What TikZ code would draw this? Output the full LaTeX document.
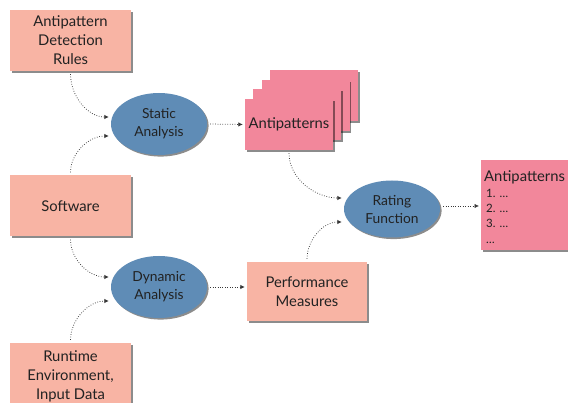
\documentclass[tikz,border=0pt]{standalone}
\usepackage{fontspec}
\setmainfont{Lato}
\usetikzlibrary{shapes.geometric,shadows,arrows.meta}
\definecolor{salmon}{HTML}{F8B4A4}
\definecolor{rose}{HTML}{F2879B}
\definecolor{steel}{HTML}{5F8CB6}
\definecolor{ink}{HTML}{222222}

\begin{document}
\begin{tikzpicture}[
  x=1pt, y=-1pt,
  font=\fontsize{14.8}{19}\selectfont, text=ink,
  shade/.style={drop shadow={shadow xshift=1.6pt, shadow yshift=-1.6pt, fill=black, opacity=0.45}},
  inbox/.style={rectangle, fill=salmon, shade, minimum width=121pt, minimum height=61pt, inner sep=0pt, align=center},
  outbox/.style={rectangle, fill=rose, shade, minimum width=88pt, minimum height=51pt, inner sep=0pt, align=center},
  step ellipse/.style={ellipse, fill=steel, shade, minimum width=96pt, minimum height=62pt, inner sep=0pt, align=center,
    font=\fontsize{13.8}{18}\selectfont},
  flow/.style={line width=0.75pt, dash pattern=on 0.75pt off 1.7pt, ink!90, -{Latex[length=4.5pt, width=4.5pt]},
    shorten <=3pt, shorten >=2pt},
]
\useasboundingbox (0,0) rectangle (568,403);

% inputs
\node [inbox] (rules) at (70.5,40.5) {Antipattern\\Detection\\Rules};
\node [inbox] (software) at (70.5,206) {Software};
\node [inbox, minimum height=66pt] (runtime) at (70.5,376) {Runtime\\Environment,\\Input Data};

% analyses
\node [step ellipse] (static) at (159,124) {Static\\Analysis};
\node [step ellipse] (dynamic) at (159,287) {Dynamic\\Analysis};
\node [step ellipse, minimum height=57pt] (rating) at (392,209) {Rating\\Function};

% stacked antipattern sheets
\node [outbox] (sheet3) at (314,96) {};
\node [outbox] (sheet2) at (305.7,105.5) {};
\node [outbox] (sheet1) at (297.3,115) {};
\node [outbox] (antipatterns) at (289,124.5) {Antipatterns};

\node [inbox, minimum width=120pt, minimum height=59pt] (perf) at (307,291.5) {Performance\\Measures};

\node [outbox, anchor=north west, inner sep=0pt, align=left] (result) at (481,160)
  {\parbox[c][90pt][t]{92pt}{\vspace{10pt}\hspace*{3pt}\fontsize{14.8}{17}\selectfont Antipatterns\\[1pt]
   \fontsize{11.5}{15.3}\selectfont\hspace*{5pt}1. \dots\\\hspace*{5pt}2. \dots\\\hspace*{5pt}3. \dots\\\hspace*{5pt}\dots}};

% connectors
\draw [flow] (rules.south) to [out=-90, in=180] ([yshift=7pt]static.west);
\draw [flow] (software.north) to [out=90, in=180] ([yshift=-12pt]static.west);
\draw [flow] (software.south) to [out=-90, in=180] ([yshift=10pt]dynamic.west);
\draw [flow] (runtime.north) to [out=90, in=180] ([yshift=-14pt]dynamic.west);
\draw [flow] (static.east) -- (antipatterns.west);
\draw [flow] (dynamic.east) -- (dynamic.east -| perf.west);
\draw [flow] (antipatterns.south) to [out=-90, in=180] ([yshift=11pt]rating.west);
\draw [flow] (perf.north) to [out=90, in=180] ([yshift=-13pt]rating.west);
\draw [flow] ([yshift=3pt]rating.east) -- ([yshift=3pt]rating.east -| result.west);
\end{tikzpicture}
\end{document}
